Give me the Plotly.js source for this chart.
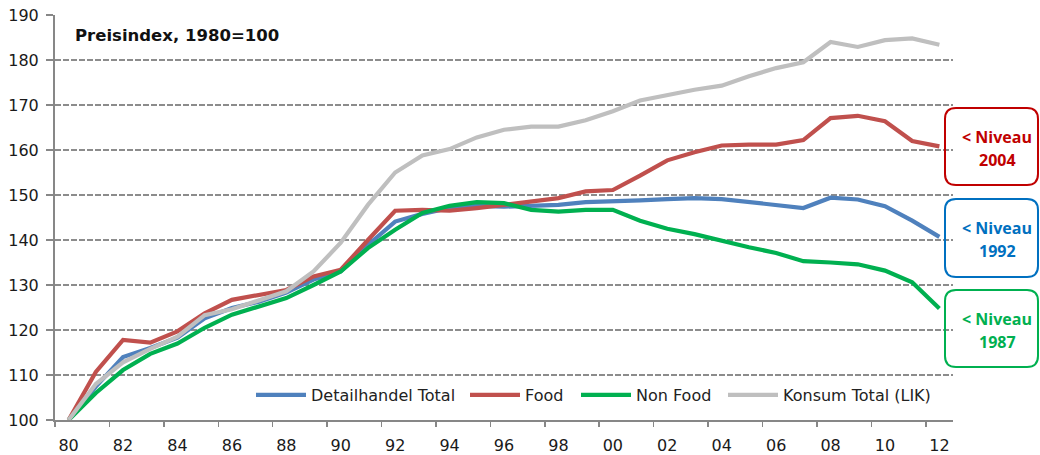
<!DOCTYPE html>
<html>
<head>
<meta charset="utf-8">
<script src="https://cdn.plot.ly/plotly-3.0.1.min.js"></script>
<style>
html,body{margin:0;padding:0;background:#fff;}
#chart{width:1040px;height:455px;}
</style>
</head>
<body>
<div id="chart"></div>
<script>
// ---- data ----
var years = [1980,1981,1982,1983,1984,1985,1986,1987,1988,1989,1990,1991,1992,1993,1994,1995,1996,1997,1998,1999,2000,2001,2002,2003,2004,2005,2006,2007,2008,2009,2010,2011,2012];
var detailhandelTotal = [100,107.4,114.0,116.0,118.3,122.6,124.9,126.3,128.3,131.2,133.0,138.9,144.1,145.8,147.1,147.6,147.4,147.6,147.8,148.4,148.5,148.8,149.1,149.3,149.1,148.4,147.8,147.1,149.4,149.0,147.5,144.3,140.7];
var food = [100,110.7,117.8,117.2,119.7,123.7,126.7,127.8,128.9,131.9,133.4,140.0,146.5,146.7,146.5,147.1,147.8,148.4,149.3,150.8,151.1,154.3,157.7,159.5,161.0,161.2,161.2,162.2,167.1,167.6,166.4,162.0,160.8];
var nonFood = [100,106.0,111.1,114.7,117.0,120.5,123.4,125.2,127.1,130.0,133.0,138.2,142.3,146.0,147.6,148.4,148.2,146.7,146.3,146.7,146.7,144.3,142.5,141.3,139.8,138.4,137.1,135.3,135.0,134.6,133.2,130.6,124.8];
var konsumTotal = [100,108.0,112.8,115.8,118.5,123.3,124.6,126.5,128.6,133.0,139.4,147.8,155.0,158.8,160.2,162.8,164.5,165.2,165.2,166.6,168.6,171.0,172.3,173.4,174.3,176.4,178.2,179.5,184.0,182.9,184.4,184.8,183.4];
var seriesNames = ["Detailhandel Total","Food","Non Food","Konsum Total (LIK)"];
var tickYears = [1980,1982,1984,1986,1988,1990,1992,1994,1996,1998,2000,2002,2004,2006,2008,2010,2012];
var tickLabels = ["80","82","84","86","88","90","92","94","96","98","00","02","04","06","08","10","12"];
var titleText = "Preisindex, 1980=100";
var boxLines = [["< Niveau","2004"],["< Niveau","1992"],["< Niveau","1987"]];

// ---- style ----
var colors = ["#4F81BD","#C0504D","#00B050","#BFBFBF"];
var boxColors = ["#C00000","#0070C0","#00B050"];
var FONT = "DejaVu Sans";
var W = 1040, H = 455, ML = 55, MR = 87, MT = 15, MB = 35;
var PW = W - ML - MR, PH = H - MT - MB;
function px(X){ return (X - ML) / PW; }
function py(Y){ return (H - MB - Y) / PH; }

var legendIds = ["legend","legend2","legend3","legend4"];
var legendX = [251, 465, 576, 723];

var seriesData = [detailhandelTotal, food, nonFood, konsumTotal];
var traces = seriesData.map(function(s, i){
  return {
    x: years, y: s, type: "scatter", mode: "lines", name: seriesNames[i],
    legend: legendIds[i],
    line: {color: colors[i], width: 4.2}, hoverinfo: "skip"
  };
});
traces.push({x: [], y: [], xaxis: "x2", yaxis: "y", showlegend: false, hoverinfo: "skip", type: "scatter", mode: "lines"});

function roundRect(x0, y0, x1, y1, r){
  function P(X, Y){ return px(X).toFixed(5) + "," + py(Y).toFixed(5); }
  return "M" + P(x0 + r, y0) +
    " L" + P(x1 - r, y0) + " Q" + P(x1, y0) + " " + P(x1, y0 + r) +
    " L" + P(x1, y1 - r) + " Q" + P(x1, y1) + " " + P(x1 - r, y1) +
    " L" + P(x0 + r, y1) + " Q" + P(x0, y1) + " " + P(x0, y1 - r) +
    " L" + P(x0, y0 + r) + " Q" + P(x0, y0) + " " + P(x0 + r, y0) + " Z";
}
var boxY = [[108,185],[199,277],[290,367]];
var shapes = [], annotations = [];
boxY.forEach(function(b, i){
  shapes.push({type: "path", xref: "paper", yref: "paper", path: roundRect(945, b[0], 1038, b[1], 11),
    line: {color: boxColors[i], width: 2}, fillcolor: "rgba(255,255,255,0)"});
  var cy = (b[0] + b[1]) / 2;
  annotations.push({xref: "paper", yref: "paper", x: px(997), y: py(cy - 10), text: "<b>" + boxLines[i][0].replace("<", "&lt;") + "</b>",
    showarrow: false, xanchor: "center", yanchor: "middle",
    font: {family: "Open Sans", size: 16, color: boxColors[i]}});
  annotations.push({xref: "paper", yref: "paper", x: px(997), y: py(cy + 13), text: "<b>" + boxLines[i][1] + "</b>",
    showarrow: false, xanchor: "center", yanchor: "middle",
    font: {family: "Open Sans", size: 16, color: boxColors[i]}});
});
annotations.push({xref: "paper", yref: "paper", x: px(73), y: py(35), text: "<b>" + titleText + "</b>",
  showarrow: false, xanchor: "left", yanchor: "middle",
  font: {family: FONT, size: 16.5, color: "#111"}});

var layout = {
  width: W, height: H,
  margin: {l: ML, r: MR, t: MT, b: MB, pad: 0},
  paper_bgcolor: "#fff", plot_bgcolor: "#fff",
  showlegend: true,
  xaxis: {range: [1979.5, 2012.5], tickmode: "array", tickvals: tickYears, ticktext: tickLabels,
    ticks: "", showline: true, linecolor: "#878787", linewidth: 2, showgrid: false, zeroline: false,
    tickfont: {family: FONT, size: 16, color: "#1a1a1a"}, ticklabelstandoff: 10, fixedrange: true},
  xaxis2: {overlaying: "x", anchor: "y", side: "bottom", range: [1979.5, 2012.5], tickmode: "linear",
    tick0: 1979.5, dtick: 2, ticks: "outside", ticklen: 6, tickwidth: 1.5, tickcolor: "#878787",
    showticklabels: false, showline: false, showgrid: false, zeroline: false},
  yaxis: {range: [100, 190], tickmode: "linear", tick0: 100, dtick: 10, ticks: "outside", ticklen: 7,
    tickwidth: 1.5, tickcolor: "#878787", showline: true, linecolor: "#878787", linewidth: 2,
    showgrid: true, gridcolor: "#8c8c8c", gridwidth: 1.5, griddash: "6px,2px", zeroline: false,
    tickfont: {family: FONT, size: 16, color: "#1a1a1a"}, ticklabelstandoff: 4, fixedrange: true},
  shapes: shapes,
  annotations: annotations
};
legendIds.forEach(function(id, i){
  layout[id] = {orientation: "h", x: px(legendX[i]), y: py(395), xanchor: "left", yanchor: "middle",
    bgcolor: "rgba(0,0,0,0)", itemwidth: 50, font: {family: FONT, size: 16, color: "#222"}};
});
Plotly.newPlot("chart", traces, layout, {staticPlot: true, displayModeBar: false});
</script>
</body>
</html>
